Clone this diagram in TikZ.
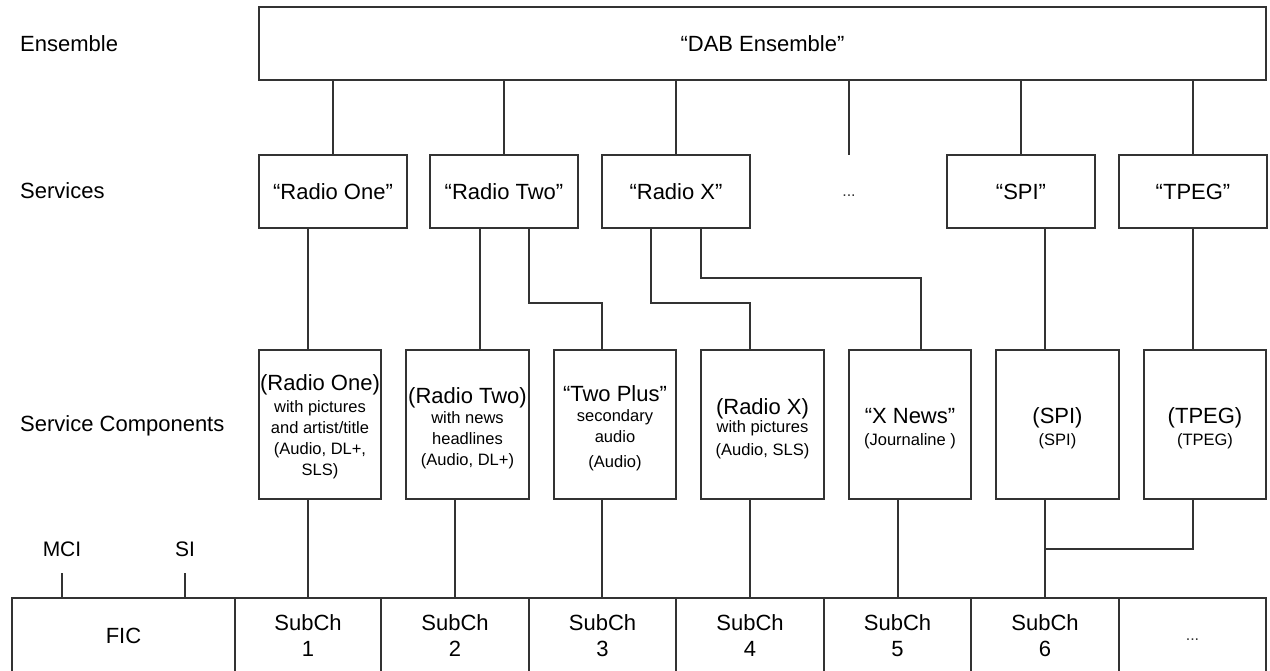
\documentclass[tikz,border=0pt]{standalone}
\usepackage{fontspec}
\setmainfont{Liberation Sans}
\definecolor{linegray}{HTML}{333333}
\newcommand\comptitle[1]{{\fontsize{22}{26}\selectfont #1}}
\begin{document}
\begin{tikzpicture}[x=1pt,y=-1pt,
  wire/.style={draw=linegray, line width=1.6pt},
  box/.style={draw=linegray, line width=1.6pt, inner sep=0pt, align=center,
              font=\fontsize{22}{26}\selectfont},
  svc/.style={box, minimum width=148pt, minimum height=73pt},
  comp/.style={box, minimum width=122.5pt, minimum height=149pt},
  comptext/.style={inner sep=0pt, align=center, font=\fontsize{16.5}{21}\selectfont},
  cell/.style={box, minimum height=76pt},
  rowlabel/.style={anchor=west, inner sep=0pt, font=\fontsize{22}{26}\selectfont},
  chlabel/.style={inner sep=0pt, font=\fontsize{21}{26}\selectfont},
  ellip/.style={inner sep=0pt, text=linegray, font=\fontsize{16}{20}\selectfont}]

\useasboundingbox (0,0) rectangle (1270,670);
\clip (0,0) rectangle (1270,670);
\fill[white] (0,0) rectangle (1270,670);

% row labels
\node[rowlabel] (lens) at (20,44) {Ensemble};
\node[rowlabel] (lsvc) at (20,191) {Services};
\node[rowlabel] (lcmp) at (20,426) {Service Components};

% ensemble and services
\node[box, minimum width=1007pt, minimum height=73pt] (ens) at (762.5,43.5) {“DAB Ensemble”};
\node[svc] (s1) at (333,191.5) {“Radio One”};
\node[svc] (s2) at (504,191.5) {“Radio Two”};
\node[svc] (s3) at (676,191.5) {“Radio X”};
\node[ellip] (sdots) at (849,196) {...};
\node[svc] (s5) at (1021,191.5) {“SPI”};
\node[svc] (s6) at (1193,191.5) {“TPEG”};

\foreach \s in {s1,s2,s3,s5,s6}
  \draw[wire] (\s.north |- ens.south) -- (\s.north);
\coordinate (dotsend) at (849,155);
\draw[wire] (dotsend |- ens.south) -- (dotsend);

% service components
\node[comp] (c1) at (320,424.5) {};
\node[comp] (c2) at (467.5,424.5) {};
\node[comp] (c3) at (615,424.5) {};
\node[comp] (c4) at (762.5,424.5) {};
\node[comp] (c5) at (910,424.5) {};
\node[comp] (c6) at (1057.5,424.5) {};
\node[comp] (c7) at (1205,424.5) {};

\node[comptext] (t1) at ([yshift=-2.5pt]c1.center)
  {\comptitle{(Radio One)}\\[1pt] with pictures\\ and artist/title\\ (Audio, DL+,\\ SLS)};
\node[comptext] (t2) at ([yshift=-3.5pt]c2.center)
  {\comptitle{(Radio Two)}\\[-1pt] with news\\ headlines\\ (Audio, DL+)};
\node[comptext] (t3) at ([yshift=-3.5pt]c3.center)
  {\comptitle{“Two Plus”}\\[-1pt] secondary\\ audio\\[4pt] (Audio)};
\node[comptext] (t4) at ([yshift=-4pt]c4.center)
  {\comptitle{(Radio X)}\\[-3pt] with pictures\\[2pt] (Audio, SLS)};
\node[comptext] (t5) at ([yshift=-4pt]c5.center)
  {\comptitle{“X News”}\\[1pt] (Journaline )};
\node[comptext] (t6) at ([yshift=-4pt]c6.center)
  {\comptitle{(SPI)}\\[1pt] (SPI)};
\node[comptext] (t7) at ([yshift=-4pt]c7.center)
  {\comptitle{(TPEG)}\\[1pt] (TPEG)};

% services to components
\coordinate (k1) at (308,0);
\draw[wire] (k1 |- s1.south) -- (k1 |- c1.north);
\coordinate (k2) at (480,0);
\draw[wire] (k2 |- s2.south) -- (k2 |- c2.north);
\coordinate (k3a) at (529,303);
\coordinate (k3b) at (602,303);
\draw[wire] (k3a |- s2.south) -- (k3a) -- (k3b) -- (k3b |- c3.north);
\coordinate (k4a) at (651,303);
\coordinate (k4b) at (750,303);
\draw[wire] (k4a |- s3.south) -- (k4a) -- (k4b) -- (k4b |- c4.north);
\coordinate (k5a) at (701,278);
\coordinate (k5b) at (921,278);
\draw[wire] (k5a |- s3.south) -- (k5a) -- (k5b) -- (k5b |- c5.north);
\coordinate (k6) at (1045,0);
\draw[wire] (k6 |- s5.south) -- (k6 |- c6.north);
\coordinate (k7) at (1193,0);
\draw[wire] (k7 |- s6.south) -- (k7 |- c7.north);

% channel row
\node[cell, minimum width=223pt] (fic) at (123.5,636) {FIC};
\node[cell, minimum width=146pt] (sub1) at (308,636) {SubCh\\1};
\node[cell, minimum width=148pt] (sub2) at (455,636) {SubCh\\2};
\node[cell, minimum width=147pt] (sub3) at (602.5,636) {SubCh\\3};
\node[cell, minimum width=148pt] (sub4) at (750,636) {SubCh\\4};
\node[cell, minimum width=147pt] (sub5) at (897.5,636) {SubCh\\5};
\node[cell, minimum width=148pt] (sub6) at (1045,636) {SubCh\\6};
\node[cell, minimum width=147pt] (subx) at (1192.5,636) {};
\node[ellip] (subxdots) at (1192.5,640) {...};

% components to sub-channels (drop positions)
\coordinate (d1) at (308,0);
\coordinate (d2) at (455,0);
\coordinate (d3) at (602,0);
\coordinate (d4) at (750,0);
\coordinate (d5) at (898,0);
\coordinate (d6) at (1045,0);
\foreach \c/\s/\d in {c1/sub1/d1,c2/sub2/d2,c3/sub3/d3,c4/sub4/d4,c5/sub5/d5,c6/sub6/d6}
  \draw[wire] (\d |- \c.south) -- (\d |- \s.north);
\coordinate (tj) at (1193,549);
\draw[wire] (tj |- c7.south) -- (tj) -- (d6 |- tj);

% FIC inputs
\node[chlabel] (mci) at (62,549) {MCI};
\node[chlabel] (si) at (185,549) {SI};
\coordinate (mcib) at (62,573);
\coordinate (sib) at (185,573);
\draw[wire] (mcib) -- (mcib |- fic.north);
\draw[wire] (sib) -- (sib |- fic.north);
\end{tikzpicture}
\end{document}
